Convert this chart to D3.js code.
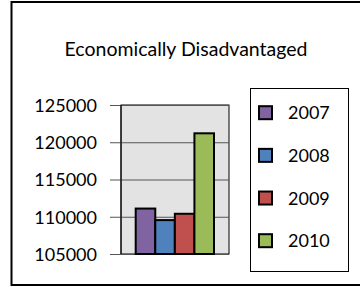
<!DOCTYPE html>
<html><head><meta charset="utf-8">
<script src="https://cdn.jsdelivr.net/npm/d3@7"></script>
<style>html,body{margin:0;padding:0;background:#fff;overflow:hidden;}svg{display:block;}</style>
</head><body>
<script>
const categories = ["2007", "2008", "2009", "2010"];
const values = [111100, 109550, 110400, 121200];
const colors = ["#8064A2", "#4F81BD", "#C0504D", "#9BBB59"];
const tickValues = [105000, 110000, 115000, 120000, 125000];
const title = "Economically Disadvantaged";

const W = 360, H = 287;
const svg = d3.select("body").append("svg").attr("width", W).attr("height", H);
const font = "Lato, 'Open Sans', sans-serif";

svg.append("path").attr("d", "M360,2 H11.5 V285 H360")
  .attr("fill", "none").attr("stroke", "#000").attr("stroke-width", 2);

svg.append("text").attr("x", 186).attr("y", 56).attr("text-anchor", "middle")
  .attr("font-family", font).attr("font-size", 19.5).attr("fill", "#000").text(title);

const px0 = 121, px1 = 229, py0 = 105, py1 = 254;
const y = d3.scaleLinear().domain([105000, 125000]).range([py1, py0]);
const x = d3.scaleBand().domain(categories).range([135.7, 214]).padding(0);

svg.append("rect").attr("x", px0).attr("y", py0).attr("width", px1 - px0).attr("height", py1 - py0)
  .attr("fill", "#e3e3e3").attr("stroke", "#000").attr("stroke-width", 1);

const axis = d3.axisLeft(y).tickValues(tickValues).tickSize(px1 - px0 + 11).tickPadding(13)
  .tickFormat(d3.format("d"));
const g = svg.append("g").attr("transform", `translate(${px1},0)`).call(axis);
g.select(".domain").remove();
g.selectAll(".tick line").attr("stroke", "#555").attr("stroke-width", 1);
g.selectAll(".tick text").attr("font-family", font).attr("font-size", 18).attr("fill", "#000").attr("dy", "0.35em");

svg.append("line").attr("x1", px0).attr("x2", px0).attr("y1", py0).attr("y2", py1).attr("stroke", "#000");

svg.selectAll("rect.bar").data(values).enter().append("rect").attr("class", "bar")
  .attr("x", (d, i) => x(categories[i]))
  .attr("y", d => y(d))
  .attr("width", x.bandwidth())
  .attr("height", d => py1 - y(d))
  .attr("fill", (d, i) => colors[i])
  .attr("stroke", "#000").attr("stroke-width", 2);

svg.append("rect").attr("x", 250.5).attr("y", 88.5).attr("width", 98).attr("height", 183)
  .attr("fill", "#fff").attr("stroke", "#000").attr("stroke-width", 1);
const ly = d3.scalePoint().domain(categories).range([112.7, 240.7]);
const leg = svg.selectAll("g.leg").data(categories).enter().append("g")
  .attr("transform", d => `translate(0,${ly(d)})`);
leg.append("rect").attr("x", 259).attr("y", -6.5).attr("width", 13).attr("height", 13)
  .attr("fill", (d, i) => colors[i]).attr("stroke", "#000").attr("stroke-width", 2);
leg.append("text").attr("x", 288).attr("y", 6.5).attr("font-family", font).attr("font-size", 18)
  .attr("fill", "#000").text(d => d);
</script>
</body></html>
